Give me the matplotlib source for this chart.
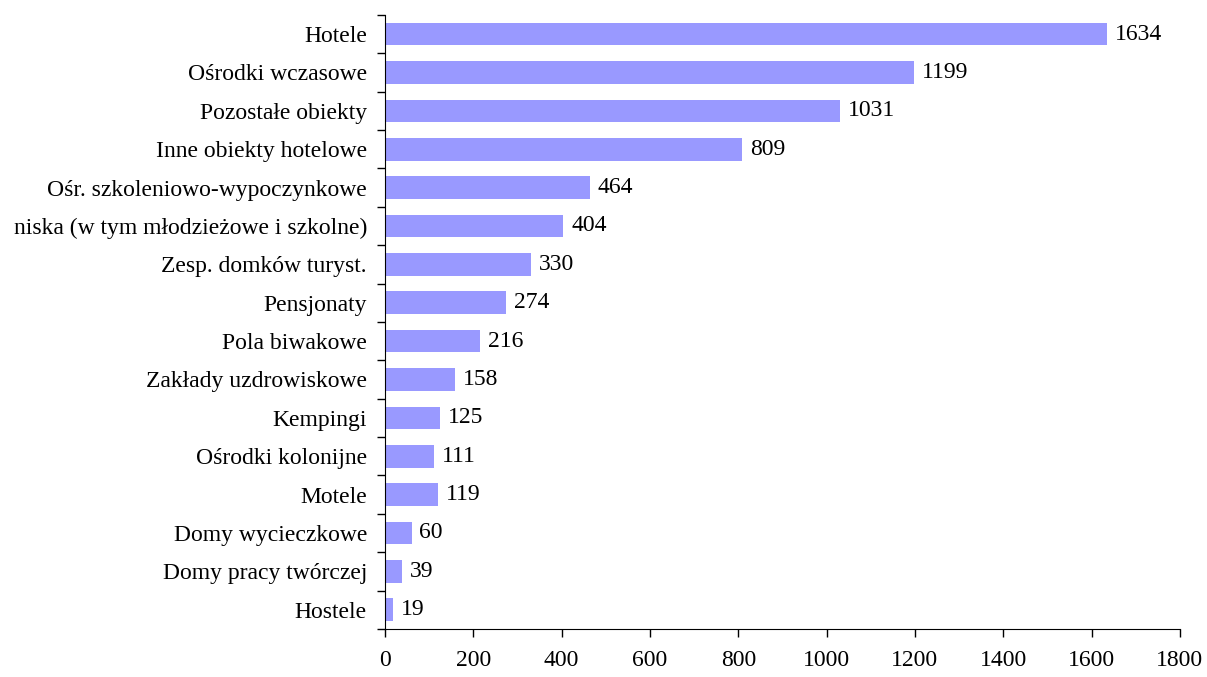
import numpy as np
import matplotlib.pyplot as plt

# dane
kategorie = ['Hotele', 'Ośrodki wczasowe', 'Pozostałe obiekty', 'Inne obiekty hotelowe',
             'Ośr. szkoleniowo-wypoczynkowe', 'niska (w tym młodzieżowe i szkolne)',
             'Zesp. domków turyst.', 'Pensjonaty', 'Pola biwakowe', 'Zakłady uzdrowiskowe',
             'Kempingi', 'Ośrodki kolonijne', 'Motele', 'Domy wycieczkowe',
             'Domy pracy twórczej', 'Hostele']
wartosci = [1634, 1199, 1031, 809, 464, 404, 330, 274, 216, 158, 125, 111, 119, 60, 39, 19]
x_ticki = [0, 200, 400, 600, 800, 1000, 1200, 1400, 1600, 1800]

plt.rcParams['font.family'] = ['Liberation Serif', 'DejaVu Serif']
plt.rcParams['font.size'] = 17

fig = plt.figure(figsize=(12.07, 6.77), dpi=100)
ax = fig.add_axes([0.319, 0.071, 0.6585, 0.907])

n = len(kategorie)
y = np.arange(n)[::-1]
ax.barh(y, wartosci, height=0.59, color='#9999FF')

for yi, v in zip(y, wartosci):
    ax.text(v + 18, yi, str(v), va='center', ha='left', fontsize=17)

ax.set_xlim(0, 1800)
ax.set_ylim(-0.5, n - 0.5)
ax.set_xticks(x_ticki)
ax.tick_params(axis='x', direction='out', length=6, width=1, pad=9, labelsize=17)

ax.set_yticks(y)
ax.set_yticklabels(kategorie)
ax.set_yticks(np.arange(n + 1) - 0.5, minor=True)
ax.tick_params(axis='y', which='major', length=0, pad=13, labelsize=17)
ax.tick_params(axis='y', which='minor', direction='out', length=6, width=1)

ax.spines['top'].set_visible(False)
ax.spines['right'].set_visible(False)

plt.savefig('out.png', dpi=100)
